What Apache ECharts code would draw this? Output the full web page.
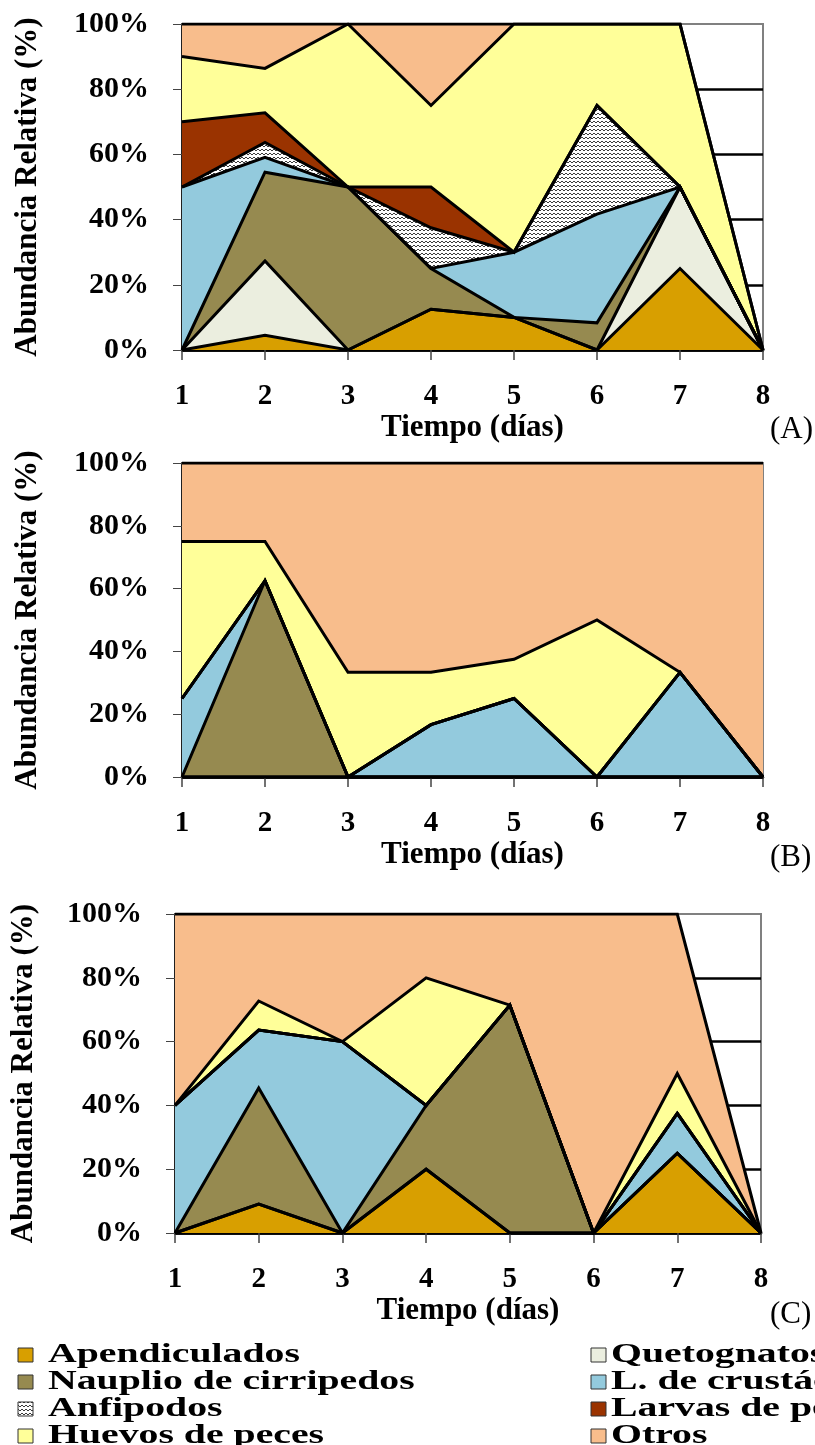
<!DOCTYPE html>
<html>
<head>
<meta charset="utf-8">
<script src="https://cdn.jsdelivr.net/npm/echarts@6/dist/echarts.min.js"></script>
<style>
  html, body { margin: 0; padding: 0; background: #ffffff; }
  #chart { width: 815px; height: 1445px; }
</style>
</head>
<body>
<div id="chart"></div>
<script>
// Sampling days shared by the three panels
const days = ['1', '2', '3', '4', '5', '6', '7', '8'];

// Plankton groups, in stacking order (bottom to top)
const groupNames = [
  'Apendiculados', 'Quetognatos', 'Nauplio de cirripedos', 'L. de crustáceos',
  'Anfipodos', 'Larvas de peces', 'Huevos de peces', 'Otros'
];

// Panel (A): relative abundance (%) per day
const aApendiculados = [0, 4.55, 0, 12.5, 10, 0, 25, 0];
const aQuetognatos   = [0, 22.73, 0, 0, 0, 0, 25, 0];
const aNauplio       = [0, 27.27, 50, 12.5, 0, 8.33, 0, 0];
const aCrustaceos    = [50, 4.55, 0, 0, 20, 33.33, 0, 0];
const aAnfipodos     = [0, 4.55, 0, 12.5, 0, 33.33, 0, 0];
const aLarvas        = [20, 9.09, 0, 12.5, 0, 0, 0, 0];
const aHuevos        = [20, 13.64, 50, 25, 70, 25, 50, 0];
const aOtros         = [10, 13.64, 0, 25, 0, 0, 0, 0];

// Panel (B)
const bApendiculados = [0, 0, 0, 0, 0, 0, 0, 0];
const bQuetognatos   = [0, 0, 0, 0, 0, 0, 0, 0];
const bNauplio       = [0, 62.5, 0, 0, 0, 0, 0, 0];
const bCrustaceos    = [25, 0, 0, 16.67, 25, 0, 33.33, 0];
const bAnfipodos     = [0, 0, 0, 0, 0, 0, 0, 0];
const bLarvas        = [0, 0, 0, 0, 0, 0, 0, 0];
const bHuevos        = [50, 12.5, 33.33, 16.67, 12.5, 50, 0, 0];
const bOtros         = [25, 25, 66.67, 66.67, 62.5, 50, 66.67, 100];

// Panel (C)
const cApendiculados = [0, 9.09, 0, 20, 0, 0, 25, 0];
const cQuetognatos   = [0, 0, 0, 0, 0, 0, 0, 0];
const cNauplio       = [0, 36.36, 0, 20, 71.43, 0, 0, 0];
const cCrustaceos    = [40, 18.18, 60, 0, 0, 0, 12.5, 0];
const cAnfipodos     = [0, 0, 0, 0, 0, 0, 0, 0];
const cLarvas        = [0, 0, 0, 0, 0, 0, 0, 0];
const cHuevos        = [0, 9.09, 0, 40, 0, 0, 12.5, 0];
const cOtros         = [60, 27.27, 40, 20, 28.57, 100, 50, 0];

const panelLabels = ['(A)', '(B)', '(C)'];

const panels = [
  [aApendiculados, aQuetognatos, aNauplio, aCrustaceos, aAnfipodos, aLarvas, aHuevos, aOtros],
  [bApendiculados, bQuetognatos, bNauplio, bCrustaceos, bAnfipodos, bLarvas, bHuevos, bOtros],
  [cApendiculados, cQuetognatos, cNauplio, cCrustaceos, cAnfipodos, cLarvas, cHuevos, cOtros]
];

// ---- styling ----
const SERIF = '"Liberation Serif", "Times New Roman", serif';

// zig-zag hatch used for the amphipod band
function zigzagCanvas() {
  const c = document.createElement('canvas');
  c.width = 8; c.height = 4;
  const g = c.getContext('2d');
  g.fillStyle = '#ffffff';
  g.fillRect(0, 0, 8, 4);
  g.strokeStyle = '#262626';
  g.lineWidth = 0.9;
  g.beginPath();
  g.moveTo(0, 3); g.lineTo(2, 1); g.lineTo(4, 3); g.lineTo(6, 1); g.lineTo(8, 3);
  g.stroke();
  return c;
}
const zigzag = { image: zigzagCanvas(), repeat: 'repeat' };

const groupFills = [
  '#D89F00', '#EBEEDF', '#968A50', '#93CADD',
  zigzag, '#9A3300', '#FFFF99', '#F8BD8C'
];

// grid boxes for the three panels
const grids = [
  { left: 182, top: 24, right: 52, height: 326 },
  { left: 182, top: 463, right: 52, height: 314 },
  { left: 173, top: 914, right: 54, height: 319 }
];
const yNameGaps = [139, 139, 136];

const xAxes = grids.map((g, i) => ({
  type: 'category',
  gridIndex: i,
  data: days,
  boundaryGap: false,
  axisLine: { show: true, lineStyle: { color: '#000', width: 2.5 } },
  axisTick: { show: true, length: 10, lineStyle: { color: '#444', width: 1.5 } },
  axisLabel: { color: '#000', fontFamily: SERIF, fontWeight: 'bold', fontSize: 29, margin: 32 },
  splitLine: { show: false },
  name: 'Tiempo (días)',
  nameLocation: 'middle',
  nameGap: 62,
  nameTextStyle: { color: '#000', fontFamily: SERIF, fontWeight: 'bold', fontSize: 31 }
}));

const yAxes = grids.map((g, i) => ({
  type: 'value',
  gridIndex: i,
  min: 0,
  max: 100,
  interval: 20,
  axisLine: { show: true, lineStyle: { color: '#000', width: 1.5 } },
  axisTick: { show: true, length: 9, lineStyle: { color: '#444', width: 1 } },
  axisLabel: {
    color: '#000', fontFamily: SERIF, fontWeight: 'bold', fontSize: 30, margin: 33,
    formatter: '{value}%'
  },
  splitLine: { show: true, showMaxLine: false, lineStyle: { color: '#000', width: 2.5 } },
  name: 'Abundancia Relativa (%)',
  nameLocation: 'middle',
  nameRotate: 90,
  nameGap: yNameGaps[i],
  nameTextStyle: { color: '#000', fontFamily: SERIF, fontWeight: 'bold', fontSize: 31 }
}));

const series = [];
panels.forEach((panel, p) => {
  panel.forEach((values, k) => {
    series.push({
      name: groupNames[k],
      type: 'line',
      xAxisIndex: p,
      yAxisIndex: p,
      stack: 'panel' + p,
      data: values,
      symbol: 'none',
      showSymbol: false,
      lineStyle: { color: '#000', width: 3, join: 'miter' },
      areaStyle: { color: groupFills[k], opacity: 1 },
      silent: true
    });
  });
});

// panel tags and the two-column key at the bottom
const graphics = [];
const tagY = [430, 858, 1315];
panelLabels.forEach((t, i) => {
  graphics.push({
    type: 'text', x: 770, y: tagY[i],
    style: { text: t, font: '31px ' + SERIF, fill: '#000', verticalAlign: 'middle' }
  });
});

const keyCols = [{ box: 18, text: 48 }, { box: 591, text: 611 }];
const keyRows = [1355, 1382, 1409, 1436];
const keyOrder = [0, 2, 4, 6, 1, 3, 5, 7];
keyOrder.forEach((k, n) => {
  const col = keyCols[Math.floor(n / 4)];
  const y = keyRows[n % 4];
  graphics.push({
    type: 'rect',
    shape: { x: col.box, y: y - 7, width: 15, height: 14 },
    style: { fill: groupFills[k], stroke: '#333', lineWidth: 1 }
  });
  graphics.push({
    type: 'text', x: col.text, y: y, scaleX: 1.42,
    style: { text: groupNames[k], font: 'bold 28px ' + SERIF, fill: '#000', verticalAlign: 'middle' }
  });
});

const chart = echarts.init(document.getElementById('chart'), null, { renderer: 'canvas' });
chart.setOption({
  animation: false,
  backgroundColor: '#ffffff',
  grid: grids.map(g => Object.assign({ show: true, borderColor: '#808080', borderWidth: 2, backgroundColor: 'transparent' }, g)),
  xAxis: xAxes,
  yAxis: yAxes,
  series: series,
  graphic: graphics
});
</script>
</body>
</html>
